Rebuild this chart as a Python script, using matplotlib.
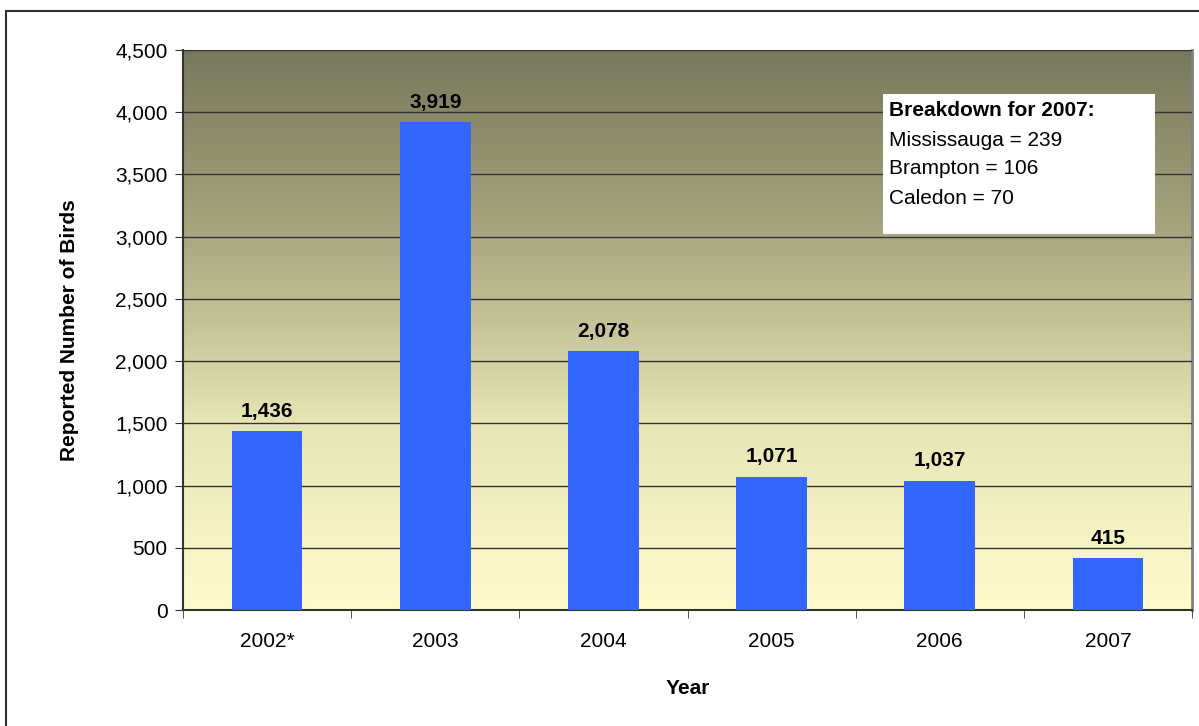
import numpy as np
import matplotlib
matplotlib.use('Agg')
from matplotlib import pyplot as plt
from matplotlib.colors import LinearSegmentedColormap
from matplotlib.patches import Rectangle
from matplotlib.ticker import MultipleLocator, FuncFormatter

years = ['2002*', '2003', '2004', '2005', '2006', '2007']
birds = [1436, 3919, 2078, 1071, 1037, 415]
breakdown_title = 'Breakdown for 2007:'
breakdown_lines = ['Mississauga = 239', 'Brampton = 106', 'Caledon = 70']

plt.rcParams['font.family'] = ['Liberation Sans', 'DejaVu Sans']

W, H = 1199, 726
fs = 15
fig = plt.figure(figsize=(W / 100, H / 100), dpi=100)
ax = fig.add_axes([183 / W, (H - 610) / H, (1192 - 183) / W, (610 - 50) / H])

# outer chart frame (cut off at right and bottom)
fig.patches.append(Rectangle((6 / W, -0.1), 1.2, 1 - 11 / H + 0.1, transform=fig.transFigure,
                             fill=False, edgecolor='#333333', linewidth=1.5, zorder=0))

# gradient background
cmap = LinearSegmentedColormap.from_list('bg', ['#fffccc', '#e6e5b5', '#a8a780', '#77775c'])
grad = np.linspace(0, 1, 256).reshape(-1, 1)
ax.imshow(grad, cmap=cmap, aspect='auto', origin='lower', extent=(-0.5, 5.5, 0, 4500), zorder=0)

x = np.arange(len(years))
ax.bar(x, birds, width=0.42, color='#3366ff', zorder=3)
for xi, v in zip(x, birds):
    ax.text(xi, v + 85, f'{v:,}', ha='center', va='bottom', fontsize=fs, fontweight='bold', zorder=4)

ax.set_xlim(-0.5, 5.5)
ax.set_ylim(0, 4500)
ax.yaxis.set_major_locator(MultipleLocator(500))
ax.yaxis.set_major_formatter(FuncFormatter(lambda v, p: f'{int(v):,}'))
ax.grid(axis='y', color='#333333', linewidth=1.0, zorder=1)
ax.set_axisbelow(False)

ax.set_xticks(x)
ax.set_xticklabels(years)
ax.set_xticks(np.arange(-0.5, 6.0, 1.0), minor=True)
ax.tick_params(axis='x', which='major', length=0, pad=16, labelsize=fs)
ax.tick_params(axis='x', which='minor', length=6, color='#333333')
ax.tick_params(axis='y', length=6, color='#333333', labelsize=fs, pad=5)

for s in ['left', 'bottom']:
    ax.spines[s].set_color('#333333')
    ax.spines[s].set_linewidth(1.5)
ax.spines['top'].set_color('#808080')
ax.spines['right'].set_color('#808080')
ax.spines['right'].set_linewidth(2)

ax.set_xlabel('Year', fontsize=fs, fontweight='bold', labelpad=20)
ax.set_ylabel('Reported Number of Birds', fontsize=fs, fontweight='bold', labelpad=26)

# breakdown box
bx0, by0, bx1, by1 = 883, 94, 1155, 234
fig.patches.append(Rectangle((bx0 / W, 1 - by1 / H), (bx1 - bx0) / W, (by1 - by0) / H,
                             transform=fig.transFigure, facecolor='white', edgecolor='none', zorder=5))
fig.text(889 / W, 1 - 110 / H, breakdown_title, fontsize=fs, fontweight='bold', va='center', zorder=6)
for i, line in enumerate(breakdown_lines):
    fig.text(889 / W, 1 - (140 + 29 * i) / H, line, fontsize=fs, va='center', zorder=6)

fig.savefig('out.png', dpi=100)
